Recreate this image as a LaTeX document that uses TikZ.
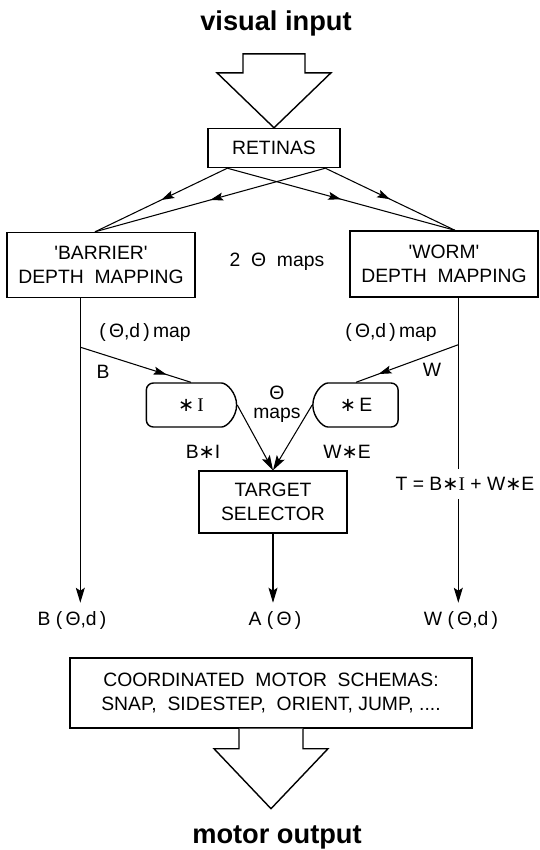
\documentclass[tikz,border=0pt]{standalone}
\usepackage{fontspec}
\setmainfont{Liberation Sans}
\newfontfamily\opfont{DejaVu Sans}
\newfontfamily\serffont{Liberation Serif}
\usetikzlibrary{arrows.meta,positioning,calc,shapes.misc,decorations.markings}
\newcommand{\capfont}{\fontsize{11}{14}\selectfont}
\newcommand{\bigfont}{\fontsize{15.5}{18}\selectfont\bfseries}
\newcommand{\conv}{{\opfont ∗}}
\newcommand{\serI}{{\serffont I}}
\newcommand{\Th}{Θ}
\newcommand{\tick}{\textquotesingle}
\tikzset{
  box/.style={draw,line width=0.8pt,align=center,font=\capfont},
  convbox/.style={box,shape=rounded rectangle,rounded corners=4pt,
                  minimum height=0.88cm},
  convI/.style={convbox,rounded rectangle left arc=none,minimum width=2.04cm},
  convE/.style={convbox,rounded rectangle right arc=none,minimum width=1.94cm},
  lab/.style={font=\capfont,align=center},
  outlab/.style={lab,inner sep=4.5pt},
  bigtxt/.style={font=\bigfont},
  fat/.style={draw,line width=0.8pt,fill=white},
  flow/.style={line width=0.6pt,-{Stealth[length=3mm,width=1.8mm,inset=0.6mm]}},
  midarr/.style={line width=0.6pt,postaction={decorate},
    decoration={markings,mark=at position #1 with
      {\arrow{Stealth[length=2.6mm,width=1.6mm,inset=0.5mm]}}}},
  midarr/.default=0.5,
}
\begin{document}
\begin{tikzpicture}[x=0.02cm,y=-0.02cm]
  \useasboundingbox (0,0) rectangle (539,850);
  % input side
  \node[bigtxt] (vin) at (276,23) {visual input};
  \node[box,minimum width=2.64cm,minimum height=0.78cm] (ret) at (274,148) {RETINAS};
  \draw[fat] (ret.north) -- ++(57,-55) -- ++(-26,0) -- ++(0,-19) -- ++(-62,0)
     -- ++(0,19) -- ++(-26,0) -- cycle;

  % the two depth maps
  \node[box,minimum width=3.76cm,minimum height=1.3cm] (bar) at (101,265)
     {\tick BARRIER\tick\\DEPTH~~MAPPING};
  \node[box,minimum width=3.76cm,minimum height=1.32cm] (worm) at (444,264)
     {\tick WORM\tick\\DEPTH~~MAPPING};
  \node[lab] (twomaps) at (277,262) {2~~\Th~~maps};
  \coordinate (rl) at ($(ret.south west)!0.15!(ret.south east)$);
  \coordinate (rr) at ($(ret.south west)!0.885!(ret.south east)$);
  \coordinate (bartop) at ($(bar.north)+(-6,0)$);
  \coordinate (wormtop) at ($(worm.north)+(11,0)$);
  \foreach \s in {rl,rr} {
    \draw[midarr] (\s) -- (bartop);
    \draw[midarr] (\s) -- (wormtop);
  }

  % theta maps
  \node[convI] (ci) at (191,405) {\conv\,\serI};
  \node[convE] (ce) at (356,405) {\conv\,E};
  \node[lab,font=\fontsize{11}{11}\selectfont] (thmaps) at (277,404) {\Th\\maps};
  \node[box,minimum width=2.96cm,minimum height=1.24cm] (tsel) at (273,502)
     {TARGET\\SELECTOR};
  \draw[flow] (ci.east) -- (tsel.north);
  \draw[flow] (ce.west) -- (tsel.north);
  \node[lab] (bi) at (203,452) {B\conv I};
  \node[lab] (we) at (347,452) {W\conv E};

  % side channels
  \coordinate (bdown) at ($(bar.south west)+(74,0)$);
  \coordinate (wdown) at ($(worm.south west)+(109,0)$);
  \coordinate (bsplit) at ($(bdown)+(0,49)$);
  \coordinate (wsplit) at ($(wdown)+(0,47)$);
  \draw[midarr=0.78] (bsplit) -- (ci.north);
  \draw[midarr=0.78] (wsplit) -- (ce.north);
  \node[lab] (bmap) at (145,332) {(\,\Th,d\,)\,map};
  \node[lab] (wmap) at (391,332) {(\,\Th,d\,)\,map};
  \node[lab] (blab) at (103,372) {B};
  \node[lab] (wlab) at (432,370) {W};
  \node[outlab] (tform) at (465,484) {T = B\conv\serI\ + W\conv E};

  % outputs
  \node[outlab] (bout) at (72,620) {B (\,\Th,d\,)};
  \node[outlab] (aout) at (275,620) {A (\,\Th\,)};
  \node[outlab] (wout) at (461,620) {W (\,\Th,d\,)};
  \draw[flow] (bdown) -- (bdown |- bout.north);
  \draw[line width=0.6pt] (wdown) -- (wdown |- tform.north);
  \draw[flow] (wdown |- tform.south) -- (wdown |- wout.north);
  \draw[flow] (tsel.south) -- (tsel.south |- aout.north);

  % motor side
  \node[box,minimum width=8.04cm,minimum height=1.4cm] (motor) at (271,693)
     {COORDINATED~~MOTOR~~SCHEMAS:\\SNAP,~~SIDESTEP,~~ORIENT,~JUMP,~....};
  \draw[fat] ($(motor.south)+(-32,0)$) -- ++(0,20) -- ++(-25,0) -- ++(57,60)
     -- ++(57,-60) -- ++(-25,0) -- ++(0,-20);
  \node[bigtxt] (mout) at (277,837) {motor output};
\end{tikzpicture}
\end{document}
